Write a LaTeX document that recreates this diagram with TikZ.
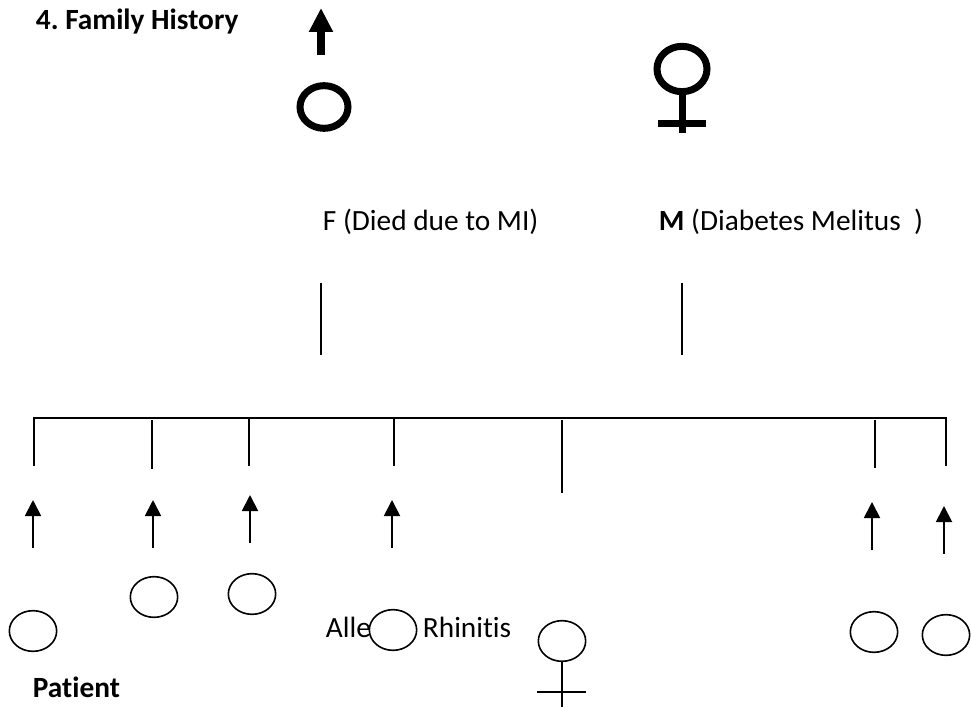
\documentclass[tikz,border=0pt]{standalone}
\usepackage{fontspec}
\setmainfont{Carlito}[Ligatures=NoCommon]
\frenchspacing
\usetikzlibrary{shapes.geometric,arrows.meta}
\tikzset{
  kid/.style={ellipse,draw,line width=1.2pt,inner sep=0pt,minimum width=35.5pt,minimum height=30.5pt},
  bigsym/.style={ellipse,draw,line width=5.25pt,inner sep=0pt},
  lbl/.style={anchor=base west,inner sep=0pt,font=\fontsize{22pt}{26pt}\selectfont},
  up/.style={line width=1.4pt,-{Triangle[width=12pt,length=12pt]}},
}
\begin{document}
\begin{tikzpicture}[x=0.75pt,y=-0.75pt,line width=1.4pt]
\useasboundingbox (0,0) rectangle (971,709);
\node[lbl,font=\fontsize{22pt}{26pt}\selectfont\bfseries] (title) at (35,30) {4. Family History};
% father
\node[bigsym,minimum width=36pt,minimum height=32pt] (fa) at (324,107) {};
\coordinate (fab) at (321,55);
\coordinate (fat) at (321,8);
\draw[line width=6pt,-{Triangle[width=17pt,length=18pt]}] (fab) -- (fat);
% mother
\node[bigsym,minimum width=37.5pt,minimum height=34pt] (mo) at (682,69) {};
\coordinate (mobl) at (658,124);
\coordinate (mobr) at (706,124);
\coordinate (mos) at (682,133);
\draw[line width=5.25pt] (mo.south) -- (mos);
\draw[line width=5.25pt] (mobl) -- (mobr);
\node[lbl] (falbl) at (322,231) {F (Died due to MI)};
\node[lbl] (molbl) at (658,231) {\textbf{M} (Diabetes Melitus\ \ )};
\coordinate (fl1) at (321,283); \coordinate (fl2) at (321,355);
\coordinate (ml1) at (682,283); \coordinate (ml2) at (682,355);
\draw (fl1) -- (fl2);
\draw (ml1) -- (ml2);
% sibship line
\coordinate (s1) at (34,466); \coordinate (s1t) at (34,418);
\coordinate (s8) at (946,466); \coordinate (s8t) at (946,418);
\draw (s1) -- (s1t) -- (s8t) -- (s8);
\coordinate (s2t) at (152,420); \coordinate (s2) at (152,469);
\coordinate (s3t) at (249,418); \coordinate (s3) at (249,466);
\coordinate (s4t) at (394,418); \coordinate (s4) at (394,466);
\coordinate (s5t) at (562,420); \coordinate (s5) at (562,493);
\coordinate (s6t) at (875,420); \coordinate (s6) at (875,468);
\draw (s2t) -- (s2);
\draw (s3t) -- (s3);
\draw (s4t) -- (s4);
\draw (s5t) -- (s5);
\draw (s6t) -- (s6);
% arrows
\coordinate (a1) at (33,548); \coordinate (a1t) at (33,500);
\coordinate (a2) at (153,548); \coordinate (a2t) at (153,500);
\coordinate (a3) at (250,543); \coordinate (a3t) at (250,495);
\coordinate (a4) at (392,548); \coordinate (a4t) at (392,500);
\coordinate (a6) at (872,550); \coordinate (a6t) at (872,502);
\coordinate (a7) at (944,554); \coordinate (a7t) at (944,506);
\draw[up] (a1) -- (a1t);
\draw[up] (a2) -- (a2t);
\draw[up] (a3) -- (a3t);
\draw[up] (a4) -- (a4t);
\draw[up] (a6) -- (a6t);
\draw[up] (a7) -- (a7t);
% children
\node[kid] (pat) at (33,631) {};
\node[kid] (k2) at (154,597) {};
\node[kid] (k3) at (252,594) {};
\node[kid] (k4) at (393,630) {};
\node[kid] (k5) at (562,641) {};
\node[kid] (k6) at (874,632) {};
\node[kid] (k7) at (946,635) {};
\coordinate (k5s) at (562,707);
\coordinate (k5l) at (537,692); \coordinate (k5r) at (586,692);
\draw[line width=1.2pt] (k5.south) -- (k5s);
\draw[line width=1.2pt] (k5l) -- (k5r);
\node[lbl] (alle) at (325,637) {Alle};
\node[lbl] (rhin) at (422,637) {Rhinitis};
\node[lbl,font=\fontsize{22pt}{26pt}\selectfont\bfseries] (patlbl) at (32,697) {Patient};
\end{tikzpicture}
\end{document}
